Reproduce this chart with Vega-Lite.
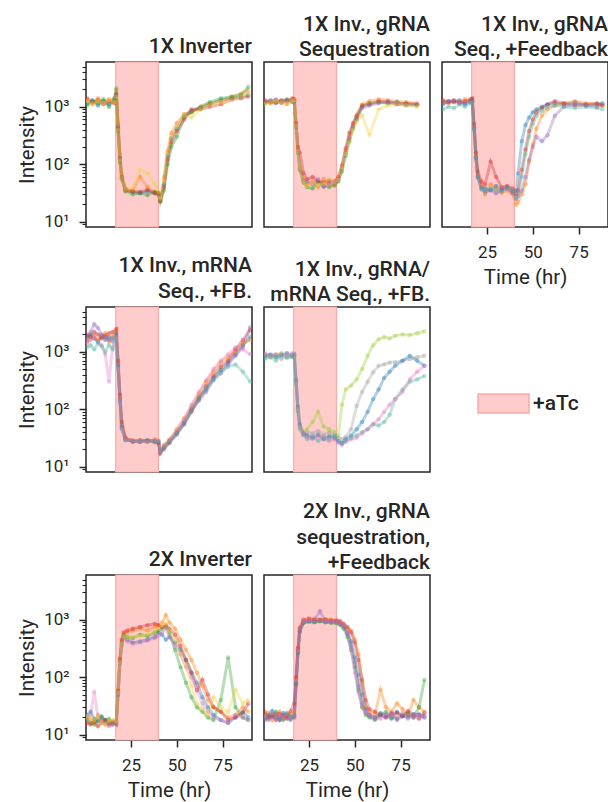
{
"$schema":"https://vega.github.io/schema/vega-lite/v6.json",
"background":"white",
"padding":{"left":16,"top":12,"right":0,"bottom":0},
"bounds":"flush",
"align":"each",
"columns":3,
"spacing":{"row":80,"column":12},
"datasets":{
"aTc":[{"start":16.7,"end":40,"label":"+aTc"}],
"A":[
{"s":0,"t":1,"v":1150},{"s":0,"t":4,"v":1300},{"s":0,"t":7,"v":1050},{"s":0,"t":10,"v":1250},{"s":0,"t":13,"v":1100},{"s":0,"t":16,"v":1400},{"s":0,"t":17,"v":1700},{"s":0,"t":18,"v":450},{"s":0,"t":19,"v":130},{"s":0,"t":20,"v":60},{"s":0,"t":22,"v":36},{"s":0,"t":26,"v":33},{"s":0,"t":30,"v":31},{"s":0,"t":34,"v":34},{"s":0,"t":38,"v":32},{"s":0,"t":40,"v":30},{"s":0,"t":41,"v":23},{"s":0,"t":43,"v":45},{"s":0,"t":45,"v":140},{"s":0,"t":47,"v":280},{"s":0,"t":50,"v":420},{"s":0,"t":54,"v":700},{"s":0,"t":58,"v":850},{"s":0,"t":63,"v":950},{"s":0,"t":68,"v":1100},{"s":0,"t":74,"v":1300},{"s":0,"t":80,"v":1400},{"s":0,"t":85,"v":1500},{"s":0,"t":89,"v":1600},
{"s":1,"t":1,"v":1300},{"s":1,"t":4,"v":1100},{"s":1,"t":7,"v":1400},{"s":1,"t":10,"v":1200},{"s":1,"t":13,"v":1350},{"s":1,"t":16,"v":1250},{"s":1,"t":17,"v":1900},{"s":1,"t":18,"v":500},{"s":1,"t":19,"v":150},{"s":1,"t":20,"v":65},{"s":1,"t":22,"v":38},{"s":1,"t":26,"v":35},{"s":1,"t":30,"v":60},{"s":1,"t":34,"v":40},{"s":1,"t":38,"v":33},{"s":1,"t":40,"v":31},{"s":1,"t":41,"v":24},{"s":1,"t":43,"v":60},{"s":1,"t":45,"v":170},{"s":1,"t":47,"v":350},{"s":1,"t":50,"v":520},{"s":1,"t":54,"v":750},{"s":1,"t":58,"v":800},{"s":1,"t":63,"v":1000},{"s":1,"t":68,"v":1150},{"s":1,"t":74,"v":1250},{"s":1,"t":80,"v":1500},{"s":1,"t":85,"v":1700},{"s":1,"t":89,"v":1900},
{"s":2,"t":1,"v":1050},{"s":2,"t":4,"v":1250},{"s":2,"t":7,"v":1150},{"s":2,"t":10,"v":1350},{"s":2,"t":13,"v":1000},{"s":2,"t":16,"v":1300},{"s":2,"t":17,"v":2100},{"s":2,"t":18,"v":380},{"s":2,"t":19,"v":110},{"s":2,"t":20,"v":55},{"s":2,"t":22,"v":34},{"s":2,"t":26,"v":30},{"s":2,"t":30,"v":32},{"s":2,"t":34,"v":29},{"s":2,"t":38,"v":33},{"s":2,"t":40,"v":31},{"s":2,"t":41,"v":22},{"s":2,"t":43,"v":35},{"s":2,"t":45,"v":100},{"s":2,"t":47,"v":200},{"s":2,"t":50,"v":300},{"s":2,"t":54,"v":650},{"s":2,"t":58,"v":800},{"s":2,"t":63,"v":1000},{"s":2,"t":68,"v":1200},{"s":2,"t":74,"v":1400},{"s":2,"t":80,"v":1500},{"s":2,"t":85,"v":1600},{"s":2,"t":89,"v":2200},
{"s":3,"t":1,"v":1400},{"s":3,"t":4,"v":1200},{"s":3,"t":7,"v":1300},{"s":3,"t":10,"v":1100},{"s":3,"t":13,"v":1250},{"s":3,"t":16,"v":1150},{"s":3,"t":17,"v":1600},{"s":3,"t":18,"v":420},{"s":3,"t":19,"v":125},{"s":3,"t":20,"v":58},{"s":3,"t":22,"v":35},{"s":3,"t":26,"v":34},{"s":3,"t":30,"v":33},{"s":3,"t":34,"v":36},{"s":3,"t":38,"v":31},{"s":3,"t":40,"v":32},{"s":3,"t":41,"v":23},{"s":3,"t":43,"v":40},{"s":3,"t":45,"v":120},{"s":3,"t":47,"v":240},{"s":3,"t":50,"v":380},{"s":3,"t":54,"v":600},{"s":3,"t":58,"v":900},{"s":3,"t":63,"v":900},{"s":3,"t":68,"v":1000},{"s":3,"t":74,"v":1100},{"s":3,"t":80,"v":1350},{"s":3,"t":85,"v":1400},{"s":3,"t":89,"v":1500},
{"s":9,"t":1,"v":1250},{"s":9,"t":4,"v":1150},{"s":9,"t":7,"v":1250},{"s":9,"t":10,"v":1150},{"s":9,"t":13,"v":1300},{"s":9,"t":16,"v":1200},{"s":9,"t":17,"v":1500},{"s":9,"t":18,"v":400},{"s":9,"t":19,"v":120},{"s":9,"t":20,"v":57},{"s":9,"t":22,"v":36},{"s":9,"t":26,"v":38},{"s":9,"t":30,"v":80},{"s":9,"t":34,"v":70},{"s":9,"t":38,"v":45},{"s":9,"t":40,"v":33},{"s":9,"t":41,"v":25},{"s":9,"t":43,"v":50},{"s":9,"t":45,"v":150},{"s":9,"t":47,"v":300},{"s":9,"t":50,"v":450},{"s":9,"t":54,"v":700},{"s":9,"t":58,"v":650},{"s":9,"t":63,"v":900},{"s":9,"t":68,"v":1050},{"s":9,"t":74,"v":1200},{"s":9,"t":80,"v":1300},{"s":9,"t":85,"v":1500},{"s":9,"t":89,"v":1700}
],
"B":[
{"s":1,"t":1,"v":1250},{"s":1,"t":4,"v":1150},{"s":1,"t":7,"v":1300},{"s":1,"t":10,"v":1200},{"s":1,"t":13,"v":1100},{"s":1,"t":16,"v":1350},{"s":1,"t":17,"v":1300},{"s":1,"t":18,"v":500},{"s":1,"t":19,"v":180},{"s":1,"t":20,"v":90},{"s":1,"t":22,"v":55},{"s":1,"t":24,"v":45},{"s":1,"t":27,"v":50},{"s":1,"t":30,"v":40},{"s":1,"t":33,"v":55},{"s":1,"t":36,"v":45},{"s":1,"t":39,"v":42},{"s":1,"t":41,"v":55},{"s":1,"t":43,"v":90},{"s":1,"t":45,"v":170},{"s":1,"t":47,"v":300},{"s":1,"t":49,"v":480},{"s":1,"t":51,"v":700},{"s":1,"t":54,"v":1100},{"s":1,"t":58,"v":1250},{"s":1,"t":63,"v":1350},{"s":1,"t":68,"v":1300},{"s":1,"t":73,"v":1250},{"s":1,"t":78,"v":1200},{"s":1,"t":84,"v":1150},
{"s":2,"t":1,"v":1150},{"s":2,"t":4,"v":1300},{"s":2,"t":7,"v":1200},{"s":2,"t":10,"v":1250},{"s":2,"t":13,"v":1350},{"s":2,"t":16,"v":1200},{"s":2,"t":17,"v":1250},{"s":2,"t":18,"v":450},{"s":2,"t":19,"v":160},{"s":2,"t":20,"v":80},{"s":2,"t":22,"v":48},{"s":2,"t":24,"v":40},{"s":2,"t":27,"v":38},{"s":2,"t":30,"v":48},{"s":2,"t":33,"v":42},{"s":2,"t":36,"v":40},{"s":2,"t":39,"v":44},{"s":2,"t":41,"v":50},{"s":2,"t":43,"v":75},{"s":2,"t":45,"v":140},{"s":2,"t":47,"v":250},{"s":2,"t":49,"v":420},{"s":2,"t":51,"v":620},{"s":2,"t":54,"v":1000},{"s":2,"t":58,"v":1150},{"s":2,"t":63,"v":1200},{"s":2,"t":68,"v":1150},{"s":2,"t":73,"v":1200},{"s":2,"t":78,"v":1100},{"s":2,"t":84,"v":1050},
{"s":3,"t":1,"v":1300},{"s":3,"t":4,"v":1200},{"s":3,"t":7,"v":1150},{"s":3,"t":10,"v":1300},{"s":3,"t":13,"v":1250},{"s":3,"t":16,"v":1400},{"s":3,"t":17,"v":1350},{"s":3,"t":18,"v":520},{"s":3,"t":19,"v":200},{"s":3,"t":20,"v":160},{"s":3,"t":22,"v":70},{"s":3,"t":24,"v":55},{"s":3,"t":27,"v":60},{"s":3,"t":30,"v":50},{"s":3,"t":33,"v":48},{"s":3,"t":36,"v":52},{"s":3,"t":39,"v":50},{"s":3,"t":41,"v":60},{"s":3,"t":43,"v":95},{"s":3,"t":45,"v":190},{"s":3,"t":47,"v":350},{"s":3,"t":49,"v":520},{"s":3,"t":51,"v":700},{"s":3,"t":54,"v":1050},{"s":3,"t":58,"v":1100},{"s":3,"t":63,"v":1250},{"s":3,"t":68,"v":1200},{"s":3,"t":73,"v":1100},{"s":3,"t":78,"v":1150},{"s":3,"t":84,"v":1100},
{"s":4,"t":1,"v":1200},{"s":4,"t":4,"v":1250},{"s":4,"t":7,"v":1350},{"s":4,"t":10,"v":1150},{"s":4,"t":13,"v":1300},{"s":4,"t":16,"v":1250},{"s":4,"t":17,"v":1200},{"s":4,"t":18,"v":480},{"s":4,"t":19,"v":170},{"s":4,"t":20,"v":85},{"s":4,"t":22,"v":52},{"s":4,"t":24,"v":50},{"s":4,"t":27,"v":45},{"s":4,"t":30,"v":55},{"s":4,"t":33,"v":40},{"s":4,"t":36,"v":48},{"s":4,"t":39,"v":46},{"s":4,"t":41,"v":52},{"s":4,"t":43,"v":85},{"s":4,"t":45,"v":160},{"s":4,"t":47,"v":280},{"s":4,"t":49,"v":450},{"s":4,"t":51,"v":600},{"s":4,"t":54,"v":950},{"s":4,"t":58,"v":1050},{"s":4,"t":63,"v":1150},{"s":4,"t":68,"v":1250},{"s":4,"t":73,"v":1150},{"s":4,"t":78,"v":1050},{"s":4,"t":84,"v":1100},
{"s":9,"t":1,"v":1100},{"s":9,"t":4,"v":1200},{"s":9,"t":7,"v":1250},{"s":9,"t":10,"v":1200},{"s":9,"t":13,"v":1150},{"s":9,"t":16,"v":1250},{"s":9,"t":17,"v":1300},{"s":9,"t":18,"v":470},{"s":9,"t":19,"v":165},{"s":9,"t":20,"v":85},{"s":9,"t":22,"v":50},{"s":9,"t":24,"v":42},{"s":9,"t":27,"v":47},{"s":9,"t":30,"v":44},{"s":9,"t":33,"v":46},{"s":9,"t":36,"v":55},{"s":9,"t":39,"v":48},{"s":9,"t":41,"v":53},{"s":9,"t":43,"v":88},{"s":9,"t":45,"v":150},{"s":9,"t":47,"v":240},{"s":9,"t":49,"v":400},{"s":9,"t":51,"v":550},{"s":9,"t":54,"v":700},{"s":9,"t":58,"v":330},{"s":9,"t":63,"v":900},{"s":9,"t":68,"v":1050},{"s":9,"t":73,"v":1100},{"s":9,"t":78,"v":1050},{"s":9,"t":84,"v":1000}
],
"C":[
{"s":0,"t":1,"v":1150},{"s":0,"t":4,"v":1250},{"s":0,"t":7,"v":1200},{"s":0,"t":10,"v":1300},{"s":0,"t":13,"v":1100},{"s":0,"t":16,"v":1250},{"s":0,"t":17,"v":1300},{"s":0,"t":18,"v":420},{"s":0,"t":19,"v":130},{"s":0,"t":20,"v":60},{"s":0,"t":22,"v":40},{"s":0,"t":24,"v":38},{"s":0,"t":27,"v":35},{"s":0,"t":30,"v":42},{"s":0,"t":33,"v":36},{"s":0,"t":36,"v":40},{"s":0,"t":39,"v":33},{"s":0,"t":41,"v":35},{"s":0,"t":42,"v":70},{"s":0,"t":44,"v":250},{"s":0,"t":46,"v":480},{"s":0,"t":48,"v":650},{"s":0,"t":50,"v":800},{"s":0,"t":52,"v":900},{"s":0,"t":55,"v":1000},{"s":0,"t":58,"v":1100},{"s":0,"t":62,"v":1150},{"s":0,"t":67,"v":1100},{"s":0,"t":73,"v":1200},{"s":0,"t":79,"v":1050},{"s":0,"t":85,"v":1100},{"s":0,"t":88,"v":1150},
{"s":1,"t":1,"v":1250},{"s":1,"t":4,"v":1150},{"s":1,"t":7,"v":1300},{"s":1,"t":10,"v":1200},{"s":1,"t":13,"v":1350},{"s":1,"t":16,"v":1200},{"s":1,"t":17,"v":1250},{"s":1,"t":18,"v":450},{"s":1,"t":19,"v":140},{"s":1,"t":20,"v":65},{"s":1,"t":22,"v":42},{"s":1,"t":24,"v":30},{"s":1,"t":27,"v":45},{"s":1,"t":30,"v":38},{"s":1,"t":33,"v":32},{"s":1,"t":36,"v":35},{"s":1,"t":39,"v":30},{"s":1,"t":41,"v":20},{"s":1,"t":42,"v":22},{"s":1,"t":44,"v":30},{"s":1,"t":46,"v":45},{"s":1,"t":48,"v":110},{"s":1,"t":50,"v":220},{"s":1,"t":52,"v":420},{"s":1,"t":55,"v":700},{"s":1,"t":58,"v":900},{"s":1,"t":62,"v":1050},{"s":1,"t":67,"v":1150},{"s":1,"t":73,"v":1250},{"s":1,"t":79,"v":1150},{"s":1,"t":85,"v":1100},{"s":1,"t":88,"v":1050},
{"s":3,"t":1,"v":1300},{"s":3,"t":4,"v":1200},{"s":3,"t":7,"v":1250},{"s":3,"t":10,"v":1150},{"s":3,"t":13,"v":1250},{"s":3,"t":16,"v":1350},{"s":3,"t":17,"v":1400},{"s":3,"t":18,"v":500},{"s":3,"t":19,"v":160},{"s":3,"t":20,"v":75},{"s":3,"t":22,"v":50},{"s":3,"t":24,"v":45},{"s":3,"t":27,"v":110},{"s":3,"t":30,"v":60},{"s":3,"t":33,"v":40},{"s":3,"t":36,"v":42},{"s":3,"t":39,"v":38},{"s":3,"t":41,"v":30},{"s":3,"t":42,"v":35},{"s":3,"t":44,"v":80},{"s":3,"t":46,"v":180},{"s":3,"t":48,"v":380},{"s":3,"t":50,"v":600},{"s":3,"t":52,"v":800},{"s":3,"t":55,"v":950},{"s":3,"t":58,"v":1100},{"s":3,"t":62,"v":1250},{"s":3,"t":67,"v":1150},{"s":3,"t":73,"v":1050},{"s":3,"t":79,"v":1100},{"s":3,"t":85,"v":1150},{"s":3,"t":88,"v":1050},
{"s":4,"t":1,"v":1100},{"s":4,"t":4,"v":1250},{"s":4,"t":7,"v":1300},{"s":4,"t":10,"v":1200},{"s":4,"t":13,"v":1150},{"s":4,"t":16,"v":1250},{"s":4,"t":17,"v":1200},{"s":4,"t":18,"v":440},{"s":4,"t":19,"v":135},{"s":4,"t":20,"v":62},{"s":4,"t":22,"v":38},{"s":4,"t":24,"v":33},{"s":4,"t":27,"v":36},{"s":4,"t":30,"v":31},{"s":4,"t":33,"v":35},{"s":4,"t":36,"v":38},{"s":4,"t":39,"v":32},{"s":4,"t":41,"v":25},{"s":4,"t":42,"v":28},{"s":4,"t":44,"v":35},{"s":4,"t":46,"v":60},{"s":4,"t":48,"v":120},{"s":4,"t":50,"v":200},{"s":4,"t":52,"v":300},{"s":4,"t":55,"v":250},{"s":4,"t":58,"v":320},{"s":4,"t":62,"v":700},{"s":4,"t":67,"v":1000},{"s":4,"t":73,"v":1100},{"s":4,"t":79,"v":1050},{"s":4,"t":85,"v":1000},{"s":4,"t":88,"v":1100},
{"s":7,"t":1,"v":900},{"s":7,"t":4,"v":1000},{"s":7,"t":7,"v":950},{"s":7,"t":10,"v":1100},{"s":7,"t":13,"v":1000},{"s":7,"t":16,"v":1150},{"s":7,"t":17,"v":1200},{"s":7,"t":18,"v":400},{"s":7,"t":19,"v":125},{"s":7,"t":20,"v":58},{"s":7,"t":22,"v":36},{"s":7,"t":24,"v":34},{"s":7,"t":27,"v":38},{"s":7,"t":30,"v":35},{"s":7,"t":33,"v":33},{"s":7,"t":36,"v":40},{"s":7,"t":39,"v":35},{"s":7,"t":41,"v":26},{"s":7,"t":42,"v":32},{"s":7,"t":44,"v":60},{"s":7,"t":46,"v":150},{"s":7,"t":48,"v":300},{"s":7,"t":50,"v":500},{"s":7,"t":52,"v":700},{"s":7,"t":55,"v":850},{"s":7,"t":58,"v":1000},{"s":7,"t":62,"v":1050},{"s":7,"t":67,"v":1000},{"s":7,"t":73,"v":950},{"s":7,"t":79,"v":1000},{"s":7,"t":85,"v":950},{"s":7,"t":88,"v":900}
],
"D":[
{"s":0,"t":1,"v":1800},{"s":0,"t":3,"v":2000},{"s":0,"t":5,"v":1700},{"s":0,"t":7,"v":1500},{"s":0,"t":9,"v":1900},{"s":0,"t":11,"v":1600},{"s":0,"t":13,"v":1800},{"s":0,"t":15,"v":1700},{"s":0,"t":17,"v":2100},{"s":0,"t":18,"v":600},{"s":0,"t":19,"v":150},{"s":0,"t":20,"v":50},{"s":0,"t":22,"v":30},{"s":0,"t":26,"v":28},{"s":0,"t":30,"v":27},{"s":0,"t":34,"v":29},{"s":0,"t":38,"v":28},{"s":0,"t":40,"v":27},{"s":0,"t":41,"v":19},{"s":0,"t":43,"v":22},{"s":0,"t":46,"v":28},{"s":0,"t":50,"v":40},{"s":0,"t":54,"v":60},{"s":0,"t":58,"v":100},{"s":0,"t":62,"v":160},{"s":0,"t":66,"v":220},{"s":0,"t":70,"v":350},{"s":0,"t":74,"v":480},{"s":0,"t":78,"v":650},{"s":0,"t":82,"v":900},{"s":0,"t":86,"v":1300},{"s":0,"t":90,"v":1800},
{"s":1,"t":1,"v":1500},{"s":1,"t":3,"v":1700},{"s":1,"t":5,"v":1900},{"s":1,"t":7,"v":1600},{"s":1,"t":9,"v":1800},{"s":1,"t":11,"v":2100},{"s":1,"t":13,"v":1500},{"s":1,"t":15,"v":1900},{"s":1,"t":17,"v":2300},{"s":1,"t":18,"v":650},{"s":1,"t":19,"v":160},{"s":1,"t":20,"v":55},{"s":1,"t":22,"v":31},{"s":1,"t":26,"v":29},{"s":1,"t":30,"v":28},{"s":1,"t":34,"v":27},{"s":1,"t":38,"v":30},{"s":1,"t":40,"v":28},{"s":1,"t":41,"v":18},{"s":1,"t":43,"v":24},{"s":1,"t":46,"v":30},{"s":1,"t":50,"v":45},{"s":1,"t":54,"v":70},{"s":1,"t":58,"v":110},{"s":1,"t":62,"v":180},{"s":1,"t":66,"v":300},{"s":1,"t":70,"v":450},{"s":1,"t":74,"v":650},{"s":1,"t":78,"v":800},{"s":1,"t":82,"v":1000},{"s":1,"t":86,"v":1400},{"s":1,"t":90,"v":1600},
{"s":3,"t":1,"v":2000},{"s":3,"t":3,"v":1800},{"s":3,"t":5,"v":2200},{"s":3,"t":7,"v":2000},{"s":3,"t":9,"v":1700},{"s":3,"t":11,"v":1900},{"s":3,"t":13,"v":2100},{"s":3,"t":15,"v":2200},{"s":3,"t":17,"v":2500},{"s":3,"t":18,"v":700},{"s":3,"t":19,"v":180},{"s":3,"t":20,"v":60},{"s":3,"t":22,"v":32},{"s":3,"t":26,"v":27},{"s":3,"t":30,"v":29},{"s":3,"t":34,"v":28},{"s":3,"t":38,"v":27},{"s":3,"t":40,"v":26},{"s":3,"t":41,"v":17},{"s":3,"t":43,"v":21},{"s":3,"t":46,"v":26},{"s":3,"t":50,"v":38},{"s":3,"t":54,"v":55},{"s":3,"t":58,"v":90},{"s":3,"t":62,"v":150},{"s":3,"t":66,"v":250},{"s":3,"t":70,"v":380},{"s":3,"t":74,"v":550},{"s":3,"t":78,"v":700},{"s":3,"t":82,"v":1100},{"s":3,"t":86,"v":1600},{"s":3,"t":90,"v":2400},
{"s":4,"t":1,"v":1600},{"s":4,"t":3,"v":2200},{"s":4,"t":5,"v":3000},{"s":4,"t":7,"v":2600},{"s":4,"t":9,"v":2000},{"s":4,"t":11,"v":1800},{"s":4,"t":13,"v":1600},{"s":4,"t":15,"v":1500},{"s":4,"t":17,"v":1900},{"s":4,"t":18,"v":550},{"s":4,"t":19,"v":140},{"s":4,"t":20,"v":48},{"s":4,"t":22,"v":29},{"s":4,"t":26,"v":28},{"s":4,"t":30,"v":27},{"s":4,"t":34,"v":29},{"s":4,"t":38,"v":28},{"s":4,"t":40,"v":27},{"s":4,"t":41,"v":18},{"s":4,"t":43,"v":20},{"s":4,"t":46,"v":27},{"s":4,"t":50,"v":36},{"s":4,"t":54,"v":58},{"s":4,"t":58,"v":95},{"s":4,"t":62,"v":140},{"s":4,"t":66,"v":200},{"s":4,"t":70,"v":320},{"s":4,"t":74,"v":420},{"s":4,"t":78,"v":600},{"s":4,"t":82,"v":850},{"s":4,"t":86,"v":1200},{"s":4,"t":90,"v":2700},
{"s":5,"t":1,"v":1400},{"s":5,"t":3,"v":1600},{"s":5,"t":5,"v":1800},{"s":5,"t":7,"v":1500},{"s":5,"t":9,"v":1300},{"s":5,"t":11,"v":900},{"s":5,"t":13,"v":300},{"s":5,"t":15,"v":1200},{"s":5,"t":17,"v":1800},{"s":5,"t":18,"v":500},{"s":5,"t":19,"v":140},{"s":5,"t":20,"v":45},{"s":5,"t":22,"v":30},{"s":5,"t":26,"v":29},{"s":5,"t":30,"v":28},{"s":5,"t":34,"v":27},{"s":5,"t":38,"v":29},{"s":5,"t":40,"v":28},{"s":5,"t":41,"v":19},{"s":5,"t":43,"v":23},{"s":5,"t":46,"v":29},{"s":5,"t":50,"v":42},{"s":5,"t":54,"v":65},{"s":5,"t":58,"v":120},{"s":5,"t":62,"v":200},{"s":5,"t":66,"v":320},{"s":5,"t":70,"v":500},{"s":5,"t":74,"v":700},{"s":5,"t":78,"v":900},{"s":5,"t":82,"v":1200},{"s":5,"t":86,"v":1100},{"s":5,"t":90,"v":900},
{"s":7,"t":1,"v":1200},{"s":7,"t":3,"v":1300},{"s":7,"t":5,"v":1100},{"s":7,"t":7,"v":1400},{"s":7,"t":9,"v":1250},{"s":7,"t":11,"v":1000},{"s":7,"t":13,"v":1300},{"s":7,"t":15,"v":1100},{"s":7,"t":17,"v":1700},{"s":7,"t":18,"v":520},{"s":7,"t":19,"v":130},{"s":7,"t":20,"v":46},{"s":7,"t":22,"v":29},{"s":7,"t":26,"v":28},{"s":7,"t":30,"v":29},{"s":7,"t":34,"v":28},{"s":7,"t":38,"v":27},{"s":7,"t":40,"v":28},{"s":7,"t":41,"v":18},{"s":7,"t":43,"v":22},{"s":7,"t":46,"v":27},{"s":7,"t":50,"v":38},{"s":7,"t":54,"v":55},{"s":7,"t":58,"v":95},{"s":7,"t":62,"v":150},{"s":7,"t":66,"v":230},{"s":7,"t":70,"v":330},{"s":7,"t":74,"v":450},{"s":7,"t":78,"v":550},{"s":7,"t":82,"v":600},{"s":7,"t":86,"v":450},{"s":7,"t":90,"v":300}
],
"E":[
{"s":6,"t":1,"v":900},{"s":6,"t":4,"v":800},{"s":6,"t":7,"v":850},{"s":6,"t":10,"v":950},{"s":6,"t":13,"v":800},{"s":6,"t":16,"v":900},{"s":6,"t":17,"v":850},{"s":6,"t":18,"v":300},{"s":6,"t":19,"v":100},{"s":6,"t":20,"v":50},{"s":6,"t":22,"v":40},{"s":6,"t":24,"v":45},{"s":6,"t":27,"v":60},{"s":6,"t":30,"v":90},{"s":6,"t":33,"v":50},{"s":6,"t":36,"v":45},{"s":6,"t":39,"v":40},{"s":6,"t":41,"v":35},{"s":6,"t":43,"v":120},{"s":6,"t":45,"v":220},{"s":6,"t":48,"v":260},{"s":6,"t":51,"v":330},{"s":6,"t":54,"v":500},{"s":6,"t":57,"v":850},{"s":6,"t":60,"v":1300},{"s":6,"t":63,"v":1650},{"s":6,"t":66,"v":1800},{"s":6,"t":69,"v":1700},{"s":6,"t":72,"v":1900},{"s":6,"t":76,"v":2000},{"s":6,"t":80,"v":1950},{"s":6,"t":84,"v":2100},{"s":6,"t":88,"v":2270},
{"s":8,"t":1,"v":800},{"s":8,"t":4,"v":850},{"s":8,"t":7,"v":900},{"s":8,"t":10,"v":750},{"s":8,"t":13,"v":850},{"s":8,"t":16,"v":800},{"s":8,"t":17,"v":800},{"s":8,"t":18,"v":280},{"s":8,"t":19,"v":90},{"s":8,"t":20,"v":45},{"s":8,"t":22,"v":35},{"s":8,"t":24,"v":40},{"s":8,"t":27,"v":38},{"s":8,"t":30,"v":42},{"s":8,"t":33,"v":36},{"s":8,"t":36,"v":40},{"s":8,"t":39,"v":35},{"s":8,"t":41,"v":32},{"s":8,"t":43,"v":30},{"s":8,"t":45,"v":33},{"s":8,"t":48,"v":45},{"s":8,"t":51,"v":114},{"s":8,"t":54,"v":200},{"s":8,"t":57,"v":300},{"s":8,"t":60,"v":440},{"s":8,"t":63,"v":570},{"s":8,"t":66,"v":600},{"s":8,"t":69,"v":650},{"s":8,"t":72,"v":660},{"s":8,"t":76,"v":700},{"s":8,"t":80,"v":750},{"s":8,"t":84,"v":800},{"s":8,"t":88,"v":850},
{"s":0,"t":1,"v":850},{"s":0,"t":4,"v":900},{"s":0,"t":7,"v":800},{"s":0,"t":10,"v":880},{"s":0,"t":13,"v":950},{"s":0,"t":16,"v":850},{"s":0,"t":17,"v":900},{"s":0,"t":18,"v":320},{"s":0,"t":19,"v":110},{"s":0,"t":20,"v":55},{"s":0,"t":22,"v":38},{"s":0,"t":24,"v":35},{"s":0,"t":27,"v":32},{"s":0,"t":30,"v":36},{"s":0,"t":33,"v":30},{"s":0,"t":36,"v":34},{"s":0,"t":39,"v":32},{"s":0,"t":41,"v":28},{"s":0,"t":43,"v":26},{"s":0,"t":45,"v":30},{"s":0,"t":48,"v":35},{"s":0,"t":51,"v":45},{"s":0,"t":54,"v":60},{"s":0,"t":57,"v":90},{"s":0,"t":60,"v":150},{"s":0,"t":63,"v":220},{"s":0,"t":66,"v":350},{"s":0,"t":69,"v":450},{"s":0,"t":72,"v":570},{"s":0,"t":76,"v":700},{"s":0,"t":80,"v":850},{"s":0,"t":84,"v":700},{"s":0,"t":88,"v":570},
{"s":7,"t":1,"v":750},{"s":7,"t":4,"v":800},{"s":7,"t":7,"v":700},{"s":7,"t":10,"v":850},{"s":7,"t":13,"v":780},{"s":7,"t":16,"v":820},{"s":7,"t":17,"v":820},{"s":7,"t":18,"v":290},{"s":7,"t":19,"v":95},{"s":7,"t":20,"v":48},{"s":7,"t":22,"v":36},{"s":7,"t":24,"v":30},{"s":7,"t":27,"v":34},{"s":7,"t":30,"v":28},{"s":7,"t":33,"v":33},{"s":7,"t":36,"v":30},{"s":7,"t":39,"v":35},{"s":7,"t":41,"v":27},{"s":7,"t":43,"v":25},{"s":7,"t":45,"v":28},{"s":7,"t":48,"v":32},{"s":7,"t":51,"v":35},{"s":7,"t":54,"v":40},{"s":7,"t":57,"v":45},{"s":7,"t":60,"v":55},{"s":7,"t":63,"v":52},{"s":7,"t":66,"v":60},{"s":7,"t":69,"v":80},{"s":7,"t":72,"v":150},{"s":7,"t":76,"v":220},{"s":7,"t":80,"v":300},{"s":7,"t":84,"v":330},{"s":7,"t":88,"v":380},
{"s":5,"t":1,"v":950},{"s":5,"t":4,"v":850},{"s":5,"t":7,"v":900},{"s":5,"t":10,"v":900},{"s":5,"t":13,"v":850},{"s":5,"t":16,"v":950},{"s":5,"t":17,"v":880},{"s":5,"t":18,"v":310},{"s":5,"t":19,"v":105},{"s":5,"t":20,"v":52},{"s":5,"t":22,"v":37},{"s":5,"t":24,"v":33},{"s":5,"t":27,"v":30},{"s":5,"t":30,"v":34},{"s":5,"t":33,"v":31},{"s":5,"t":36,"v":28},{"s":5,"t":39,"v":30},{"s":5,"t":41,"v":26},{"s":5,"t":43,"v":24},{"s":5,"t":45,"v":27},{"s":5,"t":48,"v":30},{"s":5,"t":51,"v":32},{"s":5,"t":54,"v":38},{"s":5,"t":57,"v":45},{"s":5,"t":60,"v":55},{"s":5,"t":63,"v":67},{"s":5,"t":66,"v":90},{"s":5,"t":69,"v":120},{"s":5,"t":72,"v":150},{"s":5,"t":76,"v":200},{"s":5,"t":80,"v":330},{"s":5,"t":84,"v":450},{"s":5,"t":88,"v":570}
],
"F":[
{"s":1,"t":1,"v":20},{"s":1,"t":3,"v":18},{"s":1,"t":5,"v":16},{"s":1,"t":7,"v":22},{"s":1,"t":9,"v":18},{"s":1,"t":11,"v":15},{"s":1,"t":13,"v":17},{"s":1,"t":15,"v":16},{"s":1,"t":17,"v":18},{"s":1,"t":18,"v":60},{"s":1,"t":19,"v":200},{"s":1,"t":20,"v":420},{"s":1,"t":21,"v":550},{"s":1,"t":23,"v":600},{"s":1,"t":26,"v":650},{"s":1,"t":30,"v":700},{"s":1,"t":34,"v":650},{"s":1,"t":38,"v":750},{"s":1,"t":40,"v":800},{"s":1,"t":42,"v":900},{"s":1,"t":44,"v":1200},{"s":1,"t":46,"v":900},{"s":1,"t":49,"v":700},{"s":1,"t":52,"v":450},{"s":1,"t":55,"v":300},{"s":1,"t":58,"v":200},{"s":1,"t":61,"v":120},{"s":1,"t":64,"v":70},{"s":1,"t":67,"v":40},{"s":1,"t":70,"v":30},{"s":1,"t":74,"v":25},{"s":1,"t":78,"v":20},{"s":1,"t":82,"v":22},{"s":1,"t":86,"v":30},{"s":1,"t":89,"v":25},
{"s":0,"t":1,"v":22},{"s":0,"t":3,"v":25},{"s":0,"t":5,"v":19},{"s":0,"t":7,"v":17},{"s":0,"t":9,"v":20},{"s":0,"t":11,"v":18},{"s":0,"t":13,"v":16},{"s":0,"t":15,"v":15},{"s":0,"t":17,"v":17},{"s":0,"t":18,"v":50},{"s":0,"t":19,"v":180},{"s":0,"t":20,"v":380},{"s":0,"t":21,"v":500},{"s":0,"t":23,"v":450},{"s":0,"t":26,"v":400},{"s":0,"t":30,"v":420},{"s":0,"t":34,"v":450},{"s":0,"t":38,"v":500},{"s":0,"t":40,"v":600},{"s":0,"t":42,"v":550},{"s":0,"t":44,"v":450},{"s":0,"t":46,"v":500},{"s":0,"t":49,"v":400},{"s":0,"t":52,"v":300},{"s":0,"t":55,"v":200},{"s":0,"t":58,"v":120},{"s":0,"t":61,"v":80},{"s":0,"t":64,"v":45},{"s":0,"t":67,"v":30},{"s":0,"t":70,"v":22},{"s":0,"t":74,"v":18},{"s":0,"t":78,"v":16},{"s":0,"t":82,"v":20},{"s":0,"t":86,"v":25},{"s":0,"t":89,"v":20},
{"s":2,"t":1,"v":18},{"s":2,"t":3,"v":16},{"s":2,"t":5,"v":15},{"s":2,"t":7,"v":18},{"s":2,"t":9,"v":21},{"s":2,"t":11,"v":17},{"s":2,"t":13,"v":19},{"s":2,"t":15,"v":16},{"s":2,"t":17,"v":16},{"s":2,"t":18,"v":55},{"s":2,"t":19,"v":190},{"s":2,"t":20,"v":400},{"s":2,"t":21,"v":520},{"s":2,"t":23,"v":500},{"s":2,"t":26,"v":480},{"s":2,"t":30,"v":550},{"s":2,"t":34,"v":520},{"s":2,"t":38,"v":600},{"s":2,"t":40,"v":650},{"s":2,"t":42,"v":700},{"s":2,"t":44,"v":750},{"s":2,"t":46,"v":600},{"s":2,"t":49,"v":300},{"s":2,"t":52,"v":150},{"s":2,"t":55,"v":80},{"s":2,"t":58,"v":45},{"s":2,"t":61,"v":30},{"s":2,"t":64,"v":25},{"s":2,"t":67,"v":20},{"s":2,"t":70,"v":18},{"s":2,"t":74,"v":40},{"s":2,"t":78,"v":220},{"s":2,"t":82,"v":30},{"s":2,"t":86,"v":20},{"s":2,"t":89,"v":18},
{"s":3,"t":1,"v":16},{"s":3,"t":3,"v":15},{"s":3,"t":5,"v":17},{"s":3,"t":7,"v":14},{"s":3,"t":9,"v":16},{"s":3,"t":11,"v":18},{"s":3,"t":13,"v":15},{"s":3,"t":15,"v":17},{"s":3,"t":17,"v":15},{"s":3,"t":18,"v":58},{"s":3,"t":19,"v":210},{"s":3,"t":20,"v":450},{"s":3,"t":21,"v":600},{"s":3,"t":23,"v":650},{"s":3,"t":26,"v":700},{"s":3,"t":30,"v":750},{"s":3,"t":34,"v":800},{"s":3,"t":38,"v":850},{"s":3,"t":40,"v":800},{"s":3,"t":42,"v":750},{"s":3,"t":44,"v":800},{"s":3,"t":46,"v":700},{"s":3,"t":49,"v":550},{"s":3,"t":52,"v":350},{"s":3,"t":55,"v":200},{"s":3,"t":58,"v":120},{"s":3,"t":61,"v":60},{"s":3,"t":64,"v":90},{"s":3,"t":67,"v":50},{"s":3,"t":70,"v":30},{"s":3,"t":74,"v":25},{"s":3,"t":78,"v":18},{"s":3,"t":82,"v":20},{"s":3,"t":86,"v":24},{"s":3,"t":89,"v":35},
{"s":5,"t":1,"v":19},{"s":5,"t":3,"v":22},{"s":5,"t":5,"v":56},{"s":5,"t":7,"v":20},{"s":5,"t":9,"v":17},{"s":5,"t":11,"v":16},{"s":5,"t":13,"v":14},{"s":5,"t":15,"v":15},{"s":5,"t":17,"v":16},{"s":5,"t":18,"v":52},{"s":5,"t":19,"v":170},{"s":5,"t":20,"v":360},{"s":5,"t":21,"v":480},{"s":5,"t":23,"v":420},{"s":5,"t":26,"v":380},{"s":5,"t":30,"v":400},{"s":5,"t":34,"v":430},{"s":5,"t":38,"v":480},{"s":5,"t":40,"v":520},{"s":5,"t":42,"v":600},{"s":5,"t":44,"v":700},{"s":5,"t":46,"v":500},{"s":5,"t":49,"v":350},{"s":5,"t":52,"v":250},{"s":5,"t":55,"v":150},{"s":5,"t":58,"v":100},{"s":5,"t":61,"v":60},{"s":5,"t":64,"v":35},{"s":5,"t":67,"v":25},{"s":5,"t":70,"v":20},{"s":5,"t":74,"v":18},{"s":5,"t":78,"v":16},{"s":5,"t":82,"v":22},{"s":5,"t":86,"v":20},{"s":5,"t":89,"v":18},
{"s":9,"t":1,"v":21},{"s":9,"t":3,"v":19},{"s":9,"t":5,"v":18},{"s":9,"t":7,"v":20},{"s":9,"t":9,"v":16},{"s":9,"t":11,"v":15},{"s":9,"t":13,"v":17},{"s":9,"t":15,"v":18},{"s":9,"t":17,"v":17},{"s":9,"t":18,"v":54},{"s":9,"t":19,"v":185},{"s":9,"t":20,"v":390},{"s":9,"t":21,"v":510},{"s":9,"t":23,"v":480},{"s":9,"t":26,"v":500},{"s":9,"t":30,"v":520},{"s":9,"t":34,"v":560},{"s":9,"t":38,"v":620},{"s":9,"t":40,"v":700},{"s":9,"t":42,"v":800},{"s":9,"t":44,"v":850},{"s":9,"t":46,"v":650},{"s":9,"t":49,"v":450},{"s":9,"t":52,"v":250},{"s":9,"t":55,"v":160},{"s":9,"t":58,"v":70},{"s":9,"t":61,"v":35},{"s":9,"t":64,"v":28},{"s":9,"t":67,"v":22},{"s":9,"t":70,"v":45},{"s":9,"t":74,"v":30},{"s":9,"t":78,"v":25},{"s":9,"t":82,"v":60},{"s":9,"t":86,"v":35},{"s":9,"t":89,"v":40}
],
"G":[
{"s":1,"t":1,"v":20},{"s":1,"t":3,"v":24},{"s":1,"t":5,"v":18},{"s":1,"t":7,"v":22},{"s":1,"t":9,"v":25},{"s":1,"t":11,"v":19},{"s":1,"t":13,"v":21},{"s":1,"t":15,"v":23},{"s":1,"t":17,"v":25},{"s":1,"t":18,"v":90},{"s":1,"t":19,"v":300},{"s":1,"t":20,"v":700},{"s":1,"t":22,"v":950},{"s":1,"t":25,"v":1000},{"s":1,"t":28,"v":1050},{"s":1,"t":31,"v":1000},{"s":1,"t":34,"v":980},{"s":1,"t":37,"v":1020},{"s":1,"t":40,"v":950},{"s":1,"t":42,"v":900},{"s":1,"t":44,"v":820},{"s":1,"t":46,"v":700},{"s":1,"t":48,"v":650},{"s":1,"t":50,"v":450},{"s":1,"t":52,"v":250},{"s":1,"t":54,"v":80},{"s":1,"t":56,"v":30},{"s":1,"t":58,"v":25},{"s":1,"t":61,"v":22},{"s":1,"t":64,"v":60},{"s":1,"t":67,"v":30},{"s":1,"t":70,"v":25},{"s":1,"t":73,"v":35},{"s":1,"t":76,"v":28},{"s":1,"t":79,"v":22},{"s":1,"t":82,"v":40},{"s":1,"t":85,"v":30},{"s":1,"t":88,"v":25},
{"s":0,"t":1,"v":18},{"s":0,"t":3,"v":22},{"s":0,"t":5,"v":26},{"s":0,"t":7,"v":20},{"s":0,"t":9,"v":18},{"s":0,"t":11,"v":24},{"s":0,"t":13,"v":22},{"s":0,"t":15,"v":19},{"s":0,"t":17,"v":22},{"s":0,"t":18,"v":80},{"s":0,"t":19,"v":280},{"s":0,"t":20,"v":650},{"s":0,"t":22,"v":900},{"s":0,"t":25,"v":950},{"s":0,"t":28,"v":920},{"s":0,"t":31,"v":960},{"s":0,"t":34,"v":900},{"s":0,"t":37,"v":940},{"s":0,"t":40,"v":900},{"s":0,"t":42,"v":850},{"s":0,"t":44,"v":750},{"s":0,"t":46,"v":600},{"s":0,"t":48,"v":420},{"s":0,"t":50,"v":220},{"s":0,"t":52,"v":110},{"s":0,"t":54,"v":50},{"s":0,"t":56,"v":28},{"s":0,"t":58,"v":22},{"s":0,"t":61,"v":20},{"s":0,"t":64,"v":24},{"s":0,"t":67,"v":22},{"s":0,"t":70,"v":19},{"s":0,"t":73,"v":25},{"s":0,"t":76,"v":21},{"s":0,"t":79,"v":20},{"s":0,"t":82,"v":23},{"s":0,"t":85,"v":22},{"s":0,"t":88,"v":20},
{"s":2,"t":1,"v":22},{"s":2,"t":3,"v":19},{"s":2,"t":5,"v":21},{"s":2,"t":7,"v":25},{"s":2,"t":9,"v":20},{"s":2,"t":11,"v":18},{"s":2,"t":13,"v":24},{"s":2,"t":15,"v":21},{"s":2,"t":17,"v":20},{"s":2,"t":18,"v":75},{"s":2,"t":19,"v":260},{"s":2,"t":20,"v":620},{"s":2,"t":22,"v":880},{"s":2,"t":25,"v":920},{"s":2,"t":28,"v":900},{"s":2,"t":31,"v":940},{"s":2,"t":34,"v":910},{"s":2,"t":37,"v":880},{"s":2,"t":40,"v":870},{"s":2,"t":42,"v":800},{"s":2,"t":44,"v":700},{"s":2,"t":46,"v":500},{"s":2,"t":48,"v":300},{"s":2,"t":50,"v":150},{"s":2,"t":52,"v":60},{"s":2,"t":54,"v":30},{"s":2,"t":56,"v":22},{"s":2,"t":58,"v":20},{"s":2,"t":61,"v":18},{"s":2,"t":64,"v":22},{"s":2,"t":67,"v":25},{"s":2,"t":70,"v":20},{"s":2,"t":73,"v":19},{"s":2,"t":76,"v":22},{"s":2,"t":79,"v":24},{"s":2,"t":82,"v":20},{"s":2,"t":85,"v":30},{"s":2,"t":88,"v":90},
{"s":3,"t":1,"v":25},{"s":3,"t":3,"v":20},{"s":3,"t":5,"v":22},{"s":3,"t":7,"v":18},{"s":3,"t":9,"v":23},{"s":3,"t":11,"v":21},{"s":3,"t":13,"v":19},{"s":3,"t":15,"v":26},{"s":3,"t":17,"v":35},{"s":3,"t":18,"v":100},{"s":3,"t":19,"v":320},{"s":3,"t":20,"v":720},{"s":3,"t":22,"v":1000},{"s":3,"t":25,"v":1050},{"s":3,"t":28,"v":980},{"s":3,"t":31,"v":1000},{"s":3,"t":34,"v":1020},{"s":3,"t":37,"v":960},{"s":3,"t":40,"v":980},{"s":3,"t":42,"v":950},{"s":3,"t":44,"v":850},{"s":3,"t":46,"v":750},{"s":3,"t":48,"v":600},{"s":3,"t":50,"v":400},{"s":3,"t":52,"v":200},{"s":3,"t":54,"v":90},{"s":3,"t":56,"v":40},{"s":3,"t":58,"v":28},{"s":3,"t":61,"v":25},{"s":3,"t":64,"v":22},{"s":3,"t":67,"v":20},{"s":3,"t":70,"v":23},{"s":3,"t":73,"v":24},{"s":3,"t":76,"v":21},{"s":3,"t":79,"v":26},{"s":3,"t":82,"v":22},{"s":3,"t":85,"v":19},{"s":3,"t":88,"v":24},
{"s":4,"t":1,"v":19},{"s":4,"t":3,"v":21},{"s":4,"t":5,"v":20},{"s":4,"t":7,"v":23},{"s":4,"t":9,"v":18},{"s":4,"t":11,"v":22},{"s":4,"t":13,"v":20},{"s":4,"t":15,"v":18},{"s":4,"t":17,"v":21},{"s":4,"t":18,"v":78},{"s":4,"t":19,"v":270},{"s":4,"t":20,"v":640},{"s":4,"t":22,"v":900},{"s":4,"t":25,"v":950},{"s":4,"t":28,"v":1000},{"s":4,"t":31,"v":1400},{"s":4,"t":34,"v":950},{"s":4,"t":37,"v":920},{"s":4,"t":40,"v":900},{"s":4,"t":42,"v":860},{"s":4,"t":44,"v":760},{"s":4,"t":46,"v":560},{"s":4,"t":48,"v":350},{"s":4,"t":50,"v":180},{"s":4,"t":52,"v":70},{"s":4,"t":54,"v":35},{"s":4,"t":56,"v":24},{"s":4,"t":58,"v":21},{"s":4,"t":61,"v":19},{"s":4,"t":64,"v":22},{"s":4,"t":67,"v":20},{"s":4,"t":70,"v":24},{"s":4,"t":73,"v":18},{"s":4,"t":76,"v":21},{"s":4,"t":79,"v":22},{"s":4,"t":82,"v":20},{"s":4,"t":85,"v":23},{"s":4,"t":88,"v":21},
{"s":5,"t":1,"v":21},{"s":5,"t":3,"v":18},{"s":5,"t":5,"v":24},{"s":5,"t":7,"v":19},{"s":5,"t":9,"v":22},{"s":5,"t":11,"v":20},{"s":5,"t":13,"v":23},{"s":5,"t":15,"v":20},{"s":5,"t":17,"v":22},{"s":5,"t":18,"v":85},{"s":5,"t":19,"v":290},{"s":5,"t":20,"v":680},{"s":5,"t":22,"v":920},{"s":5,"t":25,"v":980},{"s":5,"t":28,"v":940},{"s":5,"t":31,"v":970},{"s":5,"t":34,"v":930},{"s":5,"t":37,"v":950},{"s":5,"t":40,"v":920},{"s":5,"t":42,"v":870},{"s":5,"t":44,"v":780},{"s":5,"t":46,"v":620},{"s":5,"t":48,"v":300},{"s":5,"t":50,"v":120},{"s":5,"t":52,"v":55},{"s":5,"t":54,"v":30},{"s":5,"t":56,"v":25},{"s":5,"t":58,"v":22},{"s":5,"t":61,"v":20},{"s":5,"t":64,"v":19},{"s":5,"t":67,"v":23},{"s":5,"t":70,"v":21},{"s":5,"t":73,"v":20},{"s":5,"t":76,"v":24},{"s":5,"t":79,"v":19},{"s":5,"t":82,"v":22},{"s":5,"t":85,"v":21},{"s":5,"t":88,"v":20}
]
},
"concat":[
{"width":166,"height":165,"title":{"text":"1X Inverter"},"layer":[
{"data":{"name":"aTc"},"mark":{"type":"rect","fill":"#ffcccc","stroke":"#ffa8a8","strokeWidth":1.2},"encoding":{"x":{"field":"start","type":"quantitative","scale":{"domain":[0.5,91],"nice":false},"axis":null},"x2":{"field":"end"}}},
{"data":{"name":"A"},"mark":{"type":"line","strokeWidth":3,"opacity":0.35,"clip":true,"point":{"filled":true,"size":20,"opacity":0.35}},"encoding":{"x":{"field":"t","type":"quantitative","scale":{"domain":[0.5,91],"nice":false},"axis":null},"y":{"field":"v","type":"quantitative","scale":{"type":"log","domain":[8.1,6000],"nice":false},"axis":{"title":"Intensity","values":[9,10,20,30,40,50,60,70,80,90,100,200,300,400,500,600,700,800,900,1000,2000,3000,4000,5000],"labelExpr":"datum.value==10?'10¹':datum.value==100?'10²':datum.value==1000?'10³':''","labelOverlap":false,"tickSize":{"condition":{"test":"datum.value==10||datum.value==100||datum.value==1000","value":7},"value":4},"tickWidth":{"condition":{"test":"datum.value==10||datum.value==100||datum.value==1000","value":1.5},"value":1.1},"labelPadding":10,"titlePadding":6}},"color":{"field":"s","type":"nominal","scale":{"domain":[0,1,2,3,4,5,6,7,8,9],"range":["#1f77b4","#ff7f0e","#2ca02c","#d62728","#9467bd","#e377c2","#9acd32","#4fb8a0","#a0a0a0","#f2d03b"]},"legend":null}}}
]},
{"width":166,"height":165,"title":{"text":["1X Inv., gRNA","Sequestration"]},"layer":[
{"data":{"name":"aTc"},"mark":{"type":"rect","fill":"#ffcccc","stroke":"#ffa8a8","strokeWidth":1.2},"encoding":{"x":{"field":"start","type":"quantitative","scale":{"domain":[0.5,91],"nice":false},"axis":null},"x2":{"field":"end"}}},
{"data":{"name":"B"},"mark":{"type":"line","strokeWidth":3,"opacity":0.35,"clip":true,"point":{"filled":true,"size":20,"opacity":0.35}},"encoding":{"x":{"field":"t","type":"quantitative","scale":{"domain":[0.5,91],"nice":false},"axis":null},"y":{"field":"v","type":"quantitative","scale":{"type":"log","domain":[8.1,6000],"nice":false},"axis":null},"color":{"field":"s","type":"nominal","scale":{"domain":[0,1,2,3,4,5,6,7,8,9],"range":["#1f77b4","#ff7f0e","#2ca02c","#d62728","#9467bd","#e377c2","#9acd32","#4fb8a0","#a0a0a0","#f2d03b"]},"legend":null}}}
]},
{"width":166,"height":165,"title":{"text":["1X Inv., gRNA","Seq., +Feedback"]},"layer":[
{"data":{"name":"aTc"},"mark":{"type":"rect","fill":"#ffcccc","stroke":"#ffa8a8","strokeWidth":1.2},"encoding":{"x":{"field":"start","type":"quantitative","scale":{"domain":[0.5,91],"nice":false},"axis":{"title":"Time (hr)","values":[25,50,75],"tickSize":7,"tickWidth":1.5,"labelPadding":10,"titlePadding":7}},"x2":{"field":"end"}}},
{"data":{"name":"C"},"mark":{"type":"line","strokeWidth":3,"opacity":0.35,"clip":true,"point":{"filled":true,"size":20,"opacity":0.35}},"encoding":{"x":{"field":"t","type":"quantitative","scale":{"domain":[0.5,91],"nice":false},"axis":{"title":"Time (hr)","values":[25,50,75],"tickSize":7,"tickWidth":1.5,"labelPadding":10,"titlePadding":7}},"y":{"field":"v","type":"quantitative","scale":{"type":"log","domain":[8.1,6000],"nice":false},"axis":null},"color":{"field":"s","type":"nominal","scale":{"domain":[0,1,2,3,4,5,6,7,8,9],"range":["#1f77b4","#ff7f0e","#2ca02c","#d62728","#9467bd","#e377c2","#9acd32","#4fb8a0","#a0a0a0","#f2d03b"]},"legend":null}}}
]},
{"width":166,"height":165,"title":{"text":["1X Inv., mRNA","Seq., +FB."]},"layer":[
{"data":{"name":"aTc"},"mark":{"type":"rect","fill":"#ffcccc","stroke":"#ffa8a8","strokeWidth":1.2},"encoding":{"x":{"field":"start","type":"quantitative","scale":{"domain":[0.5,91],"nice":false},"axis":null},"x2":{"field":"end"}}},
{"data":{"name":"D"},"mark":{"type":"line","strokeWidth":3,"opacity":0.35,"clip":true,"point":{"filled":true,"size":20,"opacity":0.35}},"encoding":{"x":{"field":"t","type":"quantitative","scale":{"domain":[0.5,91],"nice":false},"axis":null},"y":{"field":"v","type":"quantitative","scale":{"type":"log","domain":[8.1,6000],"nice":false},"axis":{"title":"Intensity","values":[9,10,20,30,40,50,60,70,80,90,100,200,300,400,500,600,700,800,900,1000,2000,3000,4000,5000],"labelExpr":"datum.value==10?'10¹':datum.value==100?'10²':datum.value==1000?'10³':''","labelOverlap":false,"tickSize":{"condition":{"test":"datum.value==10||datum.value==100||datum.value==1000","value":7},"value":4},"tickWidth":{"condition":{"test":"datum.value==10||datum.value==100||datum.value==1000","value":1.5},"value":1.1},"labelPadding":10,"titlePadding":6}},"color":{"field":"s","type":"nominal","scale":{"domain":[0,1,2,3,4,5,6,7,8,9],"range":["#1f77b4","#ff7f0e","#2ca02c","#d62728","#9467bd","#e377c2","#9acd32","#4fb8a0","#a0a0a0","#f2d03b"]},"legend":null}}}
]},
{"width":166,"height":165,"title":{"text":["1X Inv., gRNA/","mRNA Seq., +FB."]},"layer":[
{"data":{"name":"aTc"},"mark":{"type":"rect","stroke":"#ffa8a8","strokeWidth":1.2,"opacity":1},"encoding":{"x":{"field":"start","type":"quantitative","scale":{"domain":[0.5,91],"nice":false},"axis":null},"x2":{"field":"end"},"fill":{"field":"label","type":"nominal","scale":{"range":["#ffcccc"]},"legend":{"title":null,"orient":"none","legendX":391,"legendY":315,"symbolType":"M-1,-0.37H1V0.37H-1Z","symbolSize":2601,"symbolStrokeColor":"#ffa8a8","symbolStrokeWidth":1.5,"symbolOpacity":1,"labelFontSize":21,"labelFontWeight":500,"labelFont":"Roboto","labelColor":"#262626","labelOffset":3,"padding":0}}}},
{"data":{"name":"E"},"mark":{"type":"line","strokeWidth":3,"opacity":0.35,"clip":true,"point":{"filled":true,"size":20,"opacity":0.35}},"encoding":{"x":{"field":"t","type":"quantitative","scale":{"domain":[0.5,91],"nice":false},"axis":null},"y":{"field":"v","type":"quantitative","scale":{"type":"log","domain":[8.1,6000],"nice":false},"axis":null},"color":{"field":"s","type":"nominal","scale":{"domain":[0,1,2,3,4,5,6,7,8,9],"range":["#1f77b4","#ff7f0e","#2ca02c","#d62728","#9467bd","#e377c2","#9acd32","#4fb8a0","#a0a0a0","#f2d03b"]},"legend":null}}}
]},
{"width":166,"height":188,"view":{"stroke":null},"data":{"name":"aTc"},"mark":{"type":"rect","opacity":0},"encoding":{"x":{"field":"start","type":"quantitative","axis":null},"x2":{"field":"end"}}},
{"width":166,"height":165,"title":{"text":"2X Inverter"},"layer":[
{"data":{"name":"aTc"},"mark":{"type":"rect","fill":"#ffcccc","stroke":"#ffa8a8","strokeWidth":1.2},"encoding":{"x":{"field":"start","type":"quantitative","scale":{"domain":[0.5,91],"nice":false},"axis":{"title":"Time (hr)","values":[25,50,75],"tickSize":7,"tickWidth":1.5,"labelPadding":10,"titlePadding":7}},"x2":{"field":"end"}}},
{"data":{"name":"F"},"mark":{"type":"line","strokeWidth":3,"opacity":0.35,"clip":true,"point":{"filled":true,"size":20,"opacity":0.35}},"encoding":{"x":{"field":"t","type":"quantitative","scale":{"domain":[0.5,91],"nice":false},"axis":{"title":"Time (hr)","values":[25,50,75],"tickSize":7,"tickWidth":1.5,"labelPadding":10,"titlePadding":7}},"y":{"field":"v","type":"quantitative","scale":{"type":"log","domain":[8.1,6000],"nice":false},"axis":{"title":"Intensity","values":[9,10,20,30,40,50,60,70,80,90,100,200,300,400,500,600,700,800,900,1000,2000,3000,4000,5000],"labelExpr":"datum.value==10?'10¹':datum.value==100?'10²':datum.value==1000?'10³':''","labelOverlap":false,"tickSize":{"condition":{"test":"datum.value==10||datum.value==100||datum.value==1000","value":7},"value":4},"tickWidth":{"condition":{"test":"datum.value==10||datum.value==100||datum.value==1000","value":1.5},"value":1.1},"labelPadding":10,"titlePadding":6}},"color":{"field":"s","type":"nominal","scale":{"domain":[0,1,2,3,4,5,6,7,8,9],"range":["#1f77b4","#ff7f0e","#2ca02c","#d62728","#9467bd","#e377c2","#9acd32","#4fb8a0","#a0a0a0","#f2d03b"]},"legend":null}}}
]},
{"width":166,"height":165,"title":{"text":["2X Inv., gRNA","sequestration, ","+Feedback"]},"layer":[
{"data":{"name":"aTc"},"mark":{"type":"rect","fill":"#ffcccc","stroke":"#ffa8a8","strokeWidth":1.2},"encoding":{"x":{"field":"start","type":"quantitative","scale":{"domain":[0.5,91],"nice":false},"axis":{"title":"Time (hr)","values":[25,50,75],"tickSize":7,"tickWidth":1.5,"labelPadding":10,"titlePadding":7}},"x2":{"field":"end"}}},
{"data":{"name":"G"},"mark":{"type":"line","strokeWidth":3,"opacity":0.35,"clip":true,"point":{"filled":true,"size":20,"opacity":0.35}},"encoding":{"x":{"field":"t","type":"quantitative","scale":{"domain":[0.5,91],"nice":false},"axis":{"title":"Time (hr)","values":[25,50,75],"tickSize":7,"tickWidth":1.5,"labelPadding":10,"titlePadding":7}},"y":{"field":"v","type":"quantitative","scale":{"type":"log","domain":[8.1,6000],"nice":false},"axis":null},"color":{"field":"s","type":"nominal","scale":{"domain":[0,1,2,3,4,5,6,7,8,9],"range":["#1f77b4","#ff7f0e","#2ca02c","#d62728","#9467bd","#e377c2","#9acd32","#4fb8a0","#a0a0a0","#f2d03b"]},"legend":null}}}
]}
],
"config":{
"font":"Roboto",
"view":{"stroke":"#262626","strokeWidth":1.5},
"axis":{"labelFont":"Roboto","titleFont":"Roboto","labelColor":"#262626","titleColor":"#262626","tickColor":"#262626","labelFontSize":17,"titleFontSize":20.5,"titleFontWeight":"normal","grid":false,"domain":false},
"title":{"font":"Roboto","fontSize":21,"fontWeight":500,"anchor":"end","color":"#262626","lineHeight":25.7,"offset":1}
}
}
